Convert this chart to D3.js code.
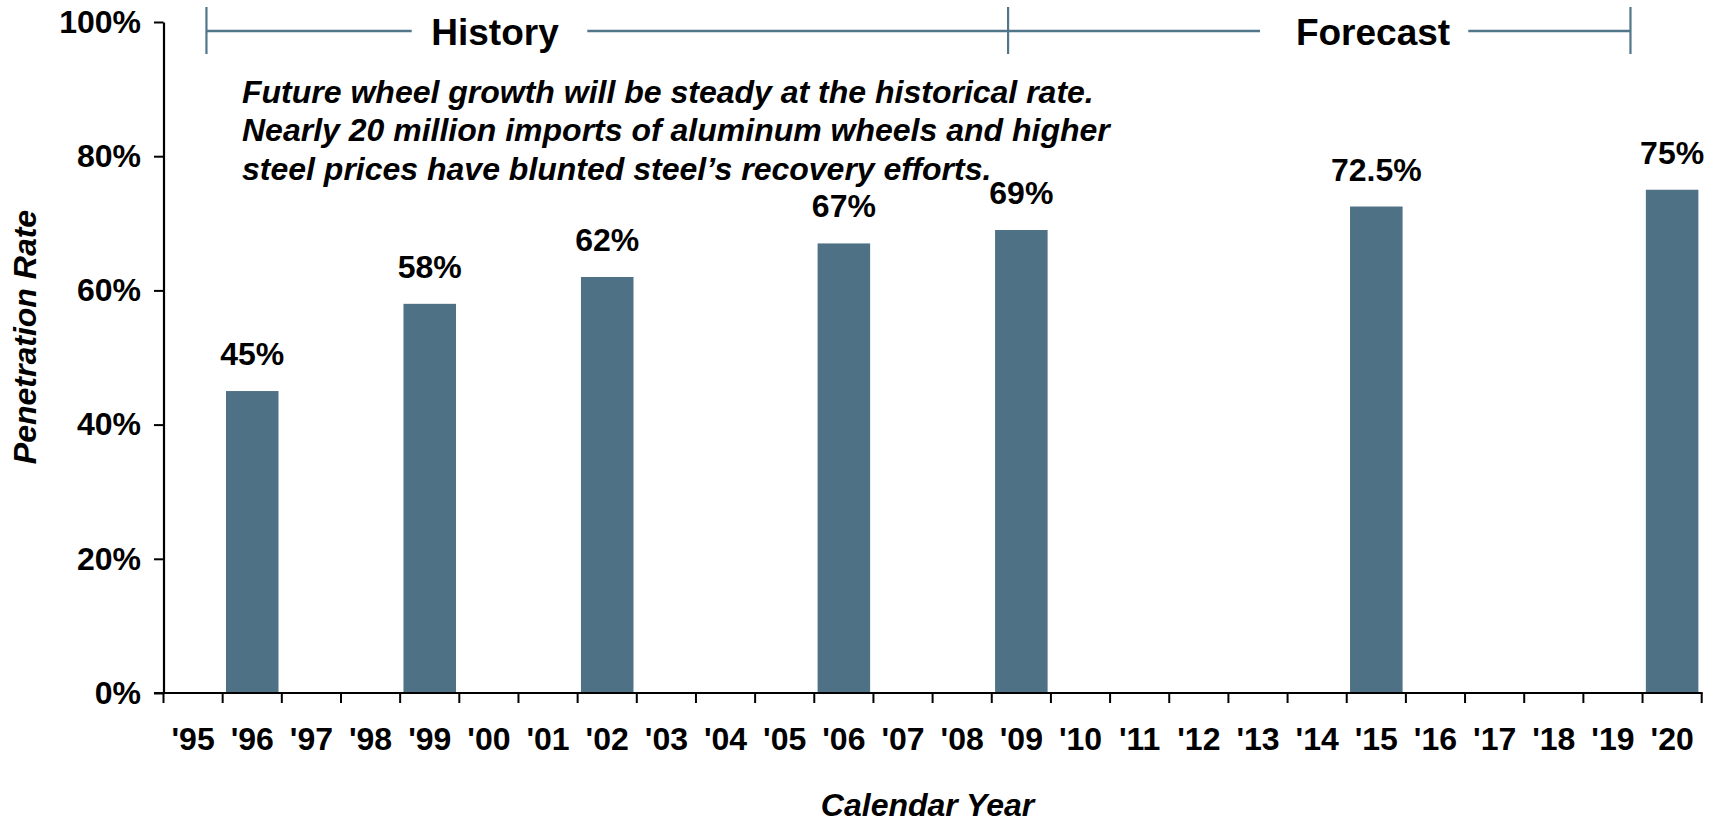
<!DOCTYPE html>
<html>
<head>
<meta charset="utf-8">
<script src="https://cdn.jsdelivr.net/npm/d3@7"></script>
<style>
  html, body { margin: 0; padding: 0; background: #fff; }
  svg { display: block; font-family: "Liberation Sans", Arial, sans-serif; }
</style>
</head>
<body>
<svg id="chart" width="1717" height="825"></svg>
<script>
// ---- data ----
const years = ["'95","'96","'97","'98","'99","'00","'01","'02","'03","'04","'05","'06","'07","'08","'09","'10","'11","'12","'13","'14","'15","'16","'17","'18","'19","'20"];
const barYears = ["'96","'99","'02","'06","'09","'15","'20"];
const barValues = [45, 58, 62, 67, 69, 72.5, 75];
const barLabels = ["45%","58%","62%","67%","69%","72.5%","75%"];
const yTicks = [0, 20, 40, 60, 80, 100];
const periods = ["History", "Forecast"];
const noteLines = [
  "Future wheel growth will be steady at the historical rate.",
  "Nearly 20 million imports of aluminum wheels and higher",
  "steel prices have blunted steel\u2019s recovery efforts."
];
const xTitle = "Calendar Year";
const yTitle = "Penetration Rate";

// ---- layout ----
(function () {
const svg = d3.select("#chart");
const mLeft = 163.5, mRight = 1701.7, mTop = 22, mBottom = 693;
const barColor = "#4e7185";
const bracketColor = "#527689";
const fs = 32;

const x = d3.scaleBand().domain(years).range([mLeft, mRight])
  .paddingInner(0.112).paddingOuter(0.056);
const y = d3.scaleLinear().domain([0, 100]).range([mBottom, mTop]);
const step = x.step();

// bars
svg.append("g").selectAll("rect")
  .data(barValues)
  .join("rect")
  .attr("x", (d, i) => x(barYears[i]))
  .attr("width", x.bandwidth())
  .attr("y", d => y(d))
  .attr("height", d => y(0) - y(d))
  .attr("fill", barColor);

// data labels
svg.append("g").selectAll("text")
  .data(barValues)
  .join("text")
  .attr("x", (d, i) => x(barYears[i]) + x.bandwidth() / 2)
  .attr("y", d => y(d) - 26)
  .attr("text-anchor", "middle")
  .attr("font-size", fs)
  .attr("font-weight", "bold")
  .attr("fill", "#000")
  .text((d, i) => barLabels[i]);

// y axis
const yAxis = d3.axisLeft(y)
  .tickValues(yTicks)
  .tickFormat(d => d + "%")
  .tickSize(9.5)
  .tickSizeOuter(0)
  .tickPadding(13);
const gy = svg.append("g").attr("transform", `translate(${mLeft},0)`).call(yAxis);
gy.select(".domain").attr("stroke", "#000").attr("stroke-width", 2.2);
gy.selectAll(".tick line").attr("stroke", "#000").attr("stroke-width", 2);
gy.selectAll(".tick text")
  .attr("font-size", fs).attr("font-weight", "bold").attr("fill", "#000")
  .attr("font-family", "'Liberation Sans', Arial, sans-serif");

// x axis baseline
svg.append("line")
  .attr("x1", mLeft - 9.5).attr("x2", mRight + 1)
  .attr("y1", y(0)).attr("y2", y(0))
  .attr("stroke", "#000").attr("stroke-width", 2.2);

// x boundary ticks
const bounds = d3.range(years.length + 1).map(i => mLeft + i * step);
svg.append("g").selectAll("line")
  .data(bounds)
  .join("line")
  .attr("x1", d => d).attr("x2", d => d)
  .attr("y1", y(0)).attr("y2", y(0) + 10)
  .attr("stroke", "#000").attr("stroke-width", 2);

// x labels
svg.append("g").selectAll("text")
  .data(years)
  .join("text")
  .attr("x", d => x(d) + x.bandwidth() / 2)
  .attr("y", y(0) + 57)
  .attr("text-anchor", "middle")
  .attr("font-size", fs)
  .attr("font-weight", "bold")
  .attr("fill", "#000")
  .text(d => d);

// axis titles
svg.append("text")
  .attr("x", (mLeft + mRight) / 2 - 5)
  .attr("y", 816)
  .attr("text-anchor", "middle")
  .attr("font-size", fs).attr("font-weight", "bold").attr("font-style", "italic")
  .text(xTitle);
svg.append("text")
  .attr("transform", "translate(36,337) rotate(-90)")
  .attr("text-anchor", "middle")
  .attr("font-size", fs).attr("font-weight", "bold").attr("font-style", "italic")
  .text(yTitle);

// history / forecast bracket
const bx0 = x("'95") + step * 0.67;
const bx1 = x("'09") + step * 0.22;
const bx2 = x("'19") + step * 0.74;
const by = 31;
const g = svg.append("g");
[bx0, bx1, bx2].forEach(bx => {
  g.append("line").attr("x1", bx).attr("x2", bx).attr("y1", 7).attr("y2", 54)
    .attr("stroke", bracketColor).attr("stroke-width", 2.2);
});
const segs = [[bx0, 411.7], [587.3, 1260], [1468.3, bx2]];
segs.forEach(s => {
  g.append("line").attr("x1", s[0]).attr("x2", s[1]).attr("y1", by).attr("y2", by)
    .attr("stroke", bracketColor).attr("stroke-width", 2.4);
});
g.append("text").attr("x", 495).attr("y", 45)
  .attr("text-anchor", "middle").attr("font-size", 37).attr("font-weight", "bold")
  .text(periods[0]);
g.append("text").attr("x", 1373).attr("y", 45)
  .attr("text-anchor", "middle").attr("font-size", 37).attr("font-weight", "bold")
  .text(periods[1]);

// note
svg.append("g").selectAll("text")
  .data(noteLines)
  .join("text")
  .attr("x", 242)
  .attr("y", (d, i) => 103 + i * 38.4)
  .attr("font-size", fs).attr("font-weight", "bold").attr("font-style", "italic")
  .text(d => d);
})();
</script>
</body>
</html>
